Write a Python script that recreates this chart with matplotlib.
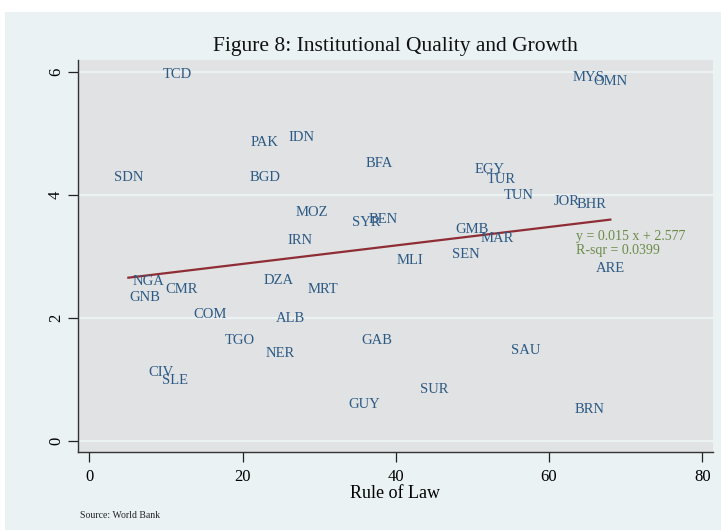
import matplotlib
matplotlib.use("Agg")
import matplotlib.pyplot as plt
from matplotlib.patches import Rectangle

countries = ["TCD", "MYS", "OMN", "PAK", "IDN", "SDN", "BGD", "BFA", "EGY", "TUR",
             "TUN", "JOR", "BHR", "SYR", "BEN", "GMB", "MAR", "MOZ", "IRN", "SEN",
             "MLI", "ARE", "NGA", "CMR", "GNB", "DZA", "MRT", "COM", "ALB", "TGO",
             "NER", "CIV", "SLE", "GAB", "SAU", "SUR", "GUY", "BRN"]
rule_of_law = [11.5, 65.1, 68.0, 22.9, 27.7, 5.1, 23.0, 37.9, 52.2, 53.8,
               56.1, 62.3, 65.5, 36.1, 38.3, 49.9, 53.2, 29.1, 27.5, 49.1,
               41.9, 68.0, 7.8, 12.1, 7.3, 24.7, 30.5, 15.8, 26.2, 19.7,
               24.9, 9.3, 11.2, 37.5, 57.0, 45.0, 35.9, 65.3]
growth = [5.98, 5.93, 5.86, 4.88, 4.96, 4.30, 4.30, 4.54, 4.44, 4.28,
          4.02, 3.92, 3.87, 3.58, 3.63, 3.46, 3.32, 3.73, 3.28, 3.05,
          2.95, 2.82, 2.61, 2.49, 2.35, 2.63, 2.49, 2.08, 2.02, 1.66,
          1.44, 1.13, 1.00, 1.65, 1.49, 0.86, 0.62, 0.53]
slope = 0.015
intercept = 2.577
r_sqr = 0.0399
x_ticks = [0, 20, 40, 60, 80]
y_ticks = [0, 2, 4, 6]

W, H = 721, 530
fig = plt.figure(figsize=(W / 100, H / 100), dpi=100)
fig.patch.set_facecolor("white")
bg = Rectangle((5 / W, 0), 1 - 5 / W, 1 - 12 / H, transform=fig.transFigure,
               facecolor="#EAF2F4", edgecolor="none", zorder=-10)
fig.add_artist(bg)

L, R, T, B = 78, 713, 60, 452.3
ax = fig.add_axes([L / W, 1 - B / H, (R - L) / W, (B - T) / H])
ax.set_zorder(1)
ax.set_facecolor("#E1E2E4")
ax.set_xlim(-1.47, 81.4)
ax.set_ylim(-0.183, 6.19)

serif = ["Liberation Serif", "DejaVu Serif"]
lab_col = "#2C5A84"

for c, xv, yv in zip(countries, rule_of_law, growth):
    ax.text(xv, yv, c, ha="center", va="center_baseline", fontsize=10.5, color=lab_col,
            family=serif, zorder=3)

xs = [min(rule_of_law), max(rule_of_law)]
ys = [intercept + slope * v for v in xs]
ax.plot(xs, ys, color="#8F2D35", lw=1.6, zorder=2)

ax.text(63.5, 3.33, f"y = {slope:.3f} x + {intercept:.3f}", ha="left", va="center",
        fontsize=10, color="#6A8B45", family=serif, zorder=4)
ax.text(63.5, 3.10, f"R-sqr = {r_sqr:.4f}", ha="left", va="center",
        fontsize=10, color="#6A8B45", family=serif, zorder=4)

ax.set_yticks(y_ticks)
ax.set_xticks(x_ticks)
ax.yaxis.grid(True, color="#EAF2F4", lw=1.6)
ax.set_axisbelow(True)
for s in ["top", "right"]:
    ax.spines[s].set_visible(False)
for s in ["left", "bottom"]:
    ax.spines[s].set_color("#333333")
    ax.spines[s].set_linewidth(1.0)
ax.tick_params(axis="both", direction="out", length=7, width=0.9, color="#222222",
               labelsize=12, pad=5)
ax.tick_params(axis="y", pad=3)
for lbl in ax.get_yticklabels():
    lbl.set_rotation(90)
    lbl.set_va("center")
    lbl.set_family(serif)
for lbl in ax.get_xticklabels():
    lbl.set_family(serif)
ax.set_xlabel("Rule of Law", fontsize=13, family=serif, labelpad=0)

fig.text(395 / W, 1 - 46 / H, "Figure 8: Institutional Quality and Growth",
         ha="center", va="center", fontsize=15.5, family=serif, color="#111111")
fig.text(80 / W, 1 - 515 / H, "Source: World Bank", ha="left", va="center",
         fontsize=7, family=serif, color="#222222")

fig.savefig("out.png", dpi=100, facecolor=fig.get_facecolor())
